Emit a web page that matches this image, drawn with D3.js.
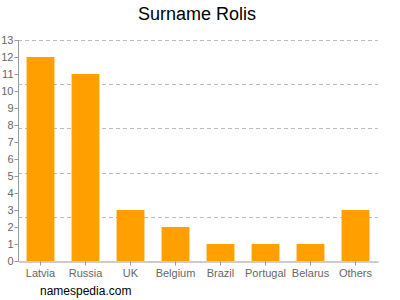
<!DOCTYPE html>
<html>
<head>
<meta charset="utf-8">
<script src="https://cdn.jsdelivr.net/npm/d3@7"></script>
<style>
  body { margin: 0; background: #fff; }
  text { font-family: "Liberation Sans", Arial, sans-serif; }
</style>
</head>
<body>
<div id="graph"></div>
<script>
const countries = ["Latvia", "Russia", "UK", "Belgium", "Brazil", "Portugal", "Belarus", "Others"];
const counts = [12, 11, 3, 2, 1, 1, 1, 3];
const yTicks = d3.range(0, 14);
const gridValues = [2.6, 5.2, 7.8, 10.4, 13];

let width = 400;
let height = 300;
let plotLeft = 18, plotRight = 378, plotTop = 40, plotBottom = 261;

let svg = d3.select("#graph")
    .append("svg")
    .attr("width", width)
    .attr("height", height);

svg.append("text")
    .attr("x", 197)
    .attr("y", 20)
    .attr("text-anchor", "middle")
    .attr("font-size", "18px")
    .attr("fill", "#000")
    .text("Surname Rolis");

let xScale = d3.scaleBand().domain(countries).range([plotLeft, plotRight])
    .paddingInner(0.38).paddingOuter(0.19);
let yScale = d3.scaleLinear().domain([0, 13]).range([plotBottom, plotTop]);

// dashed grid
svg.append("g").selectAll("line")
    .data(gridValues)
    .enter().append("line")
    .attr("x1", plotLeft)
    .attr("x2", plotRight)
    .attr("y1", d => Math.round(yScale(d)) + 0.5)
    .attr("y2", d => Math.round(yScale(d)) + 0.5)
    .attr("stroke", "#bbb")
    .attr("stroke-dasharray", "4,3");

svg.append("g").selectAll("rect")
    .data(countries)
    .enter().append("rect")
    .attr("x", d => xScale(d))
    .attr("y", (d, i) => yScale(counts[i]))
    .attr("width", xScale.bandwidth())
    .attr("height", (d, i) => plotBottom - yScale(counts[i]))
    .attr("fill", "#ffa000");

let yAxis = svg.append("g")
    .attr("transform", "translate(" + (plotLeft + 0.5) + ",0)")
    .call(d3.axisLeft(yScale).tickValues(yTicks).tickSize(4).tickPadding(1).tickFormat(d3.format("d")));

let xAxis = svg.append("g")
    .attr("transform", "translate(0," + (plotBottom + 0.5) + ")")
    .call(d3.axisBottom(xScale).tickSize(4).tickSizeOuter(0).tickPadding(4));

[yAxis, xAxis].forEach(a => {
    a.selectAll("path, line").attr("stroke", "#999");
    a.selectAll("text").attr("fill", "#666").attr("font-size", "11px")
        .style("font-family", "Liberation Sans, Arial, sans-serif");
});
yAxis.select(".domain").attr("d", "M0," + plotTop + "V" + plotBottom);

svg.append("text")
    .attr("x", 40)
    .attr("y", 295)
    .attr("font-size", "12px")
    .attr("fill", "#000")
    .text("namespedia.com");
</script>
</body>
</html>
